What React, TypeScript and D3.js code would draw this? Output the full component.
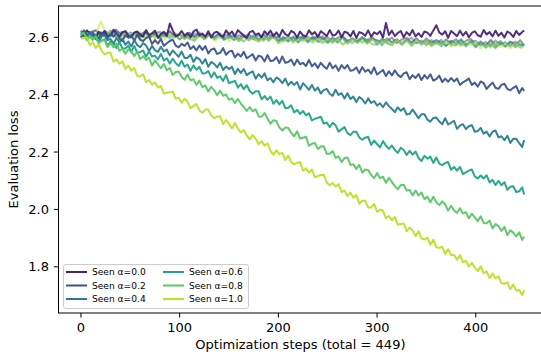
import React from 'react';
import * as d3 from 'd3';

// optimisation steps at which the seen curves were read (every 3 steps) and the unseen ones (every 5 steps)
const STEPS_SEEN = [...d3.range(0, 450, 3), 449];
const STEPS_UNSEEN = [...d3.range(0, 450, 5), 449];
const ALPHA_LABELS = ['0.0', '0.2', '0.4', '0.6', '0.8', '1.0'];
const X_TICKS = [0, 100, 200, 300, 400];
const Y_TICKS = [1.8, 2.0, 2.2, 2.4, 2.6];

const SEEN_00 = [
  2.615, 2.604, 2.624, 2.614, 2.607, 2.599, 2.619, 2.610, 2.622, 2.603,
  2.608, 2.626, 2.613, 2.601, 2.618, 2.621, 2.605, 2.600, 2.616, 2.620,
  2.609, 2.602, 2.625, 2.606, 2.614, 2.623, 2.598, 2.611, 2.619, 2.604,
  2.648, 2.624, 2.603, 2.608, 2.622, 2.605, 2.615, 2.600, 2.620, 2.627,
  2.606, 2.613, 2.602, 2.621, 2.599, 2.616, 2.619, 2.607, 2.601, 2.624,
  2.610, 2.620, 2.603, 2.625, 2.615, 2.605, 2.598, 2.618, 2.622, 2.608,
  2.614, 2.600, 2.621, 2.609, 2.623, 2.604, 2.617, 2.602, 2.626, 2.611,
  2.605, 2.622, 2.616, 2.599, 2.620, 2.607, 2.603, 2.624, 2.610, 2.618,
  2.601, 2.621, 2.613, 2.604, 2.625, 2.606, 2.609, 2.623, 2.600, 2.619,
  2.616, 2.603, 2.622, 2.598, 2.618, 2.614, 2.605, 2.624, 2.602, 2.617,
  2.611, 2.621, 2.599, 2.650, 2.608, 2.623, 2.604, 2.615, 2.622, 2.600,
  2.618, 2.607, 2.625, 2.603, 2.614, 2.601, 2.620, 2.616, 2.605, 2.624,
  2.642, 2.617, 2.609, 2.621, 2.598, 2.622, 2.613, 2.604, 2.623, 2.606,
  2.619, 2.600, 2.615, 2.621, 2.607, 2.602, 2.625, 2.610, 2.618, 2.603,
  2.623, 2.605, 2.616, 2.599, 2.620, 2.614, 2.601, 2.622, 2.608, 2.618,
  2.624,
];
const SEEN_02 = [
  2.599, 2.624, 2.610, 2.602, 2.616, 2.603, 2.596, 2.616, 2.611, 2.596,
  2.613, 2.602, 2.616, 2.595, 2.587, 2.607, 2.598, 2.608, 2.588, 2.609,
  2.591, 2.587, 2.597, 2.602, 2.577, 2.590, 2.578, 2.594, 2.570, 2.579,
  2.587, 2.592, 2.571, 2.565, 2.577, 2.570, 2.582, 2.559, 2.569, 2.554,
  2.571, 2.556, 2.569, 2.544, 2.557, 2.561, 2.542, 2.546, 2.562, 2.539,
  2.550, 2.553, 2.530, 2.543, 2.533, 2.549, 2.527, 2.534, 2.541, 2.519,
  2.536, 2.532, 2.516, 2.538, 2.517, 2.519, 2.531, 2.510, 2.533, 2.511,
  2.514, 2.522, 2.502, 2.522, 2.506, 2.511, 2.500, 2.521, 2.499, 2.509,
  2.493, 2.511, 2.499, 2.490, 2.511, 2.492, 2.502, 2.483, 2.503, 2.491,
  2.503, 2.483, 2.486, 2.495, 2.475, 2.496, 2.480, 2.487, 2.473, 2.495,
  2.470, 2.478, 2.486, 2.465, 2.481, 2.467, 2.485, 2.469, 2.461, 2.474,
  2.478, 2.454, 2.468, 2.458, 2.472, 2.451, 2.468, 2.456, 2.471, 2.449,
  2.454, 2.466, 2.444, 2.456, 2.445, 2.458, 2.446, 2.456, 2.434, 2.443,
  2.449, 2.456, 2.434, 2.442, 2.428, 2.446, 2.440, 2.420, 2.432, 2.442,
  2.424, 2.420, 2.434, 2.438, 2.420, 2.415, 2.424, 2.430, 2.405, 2.423,
  2.413,
];
const SEEN_04 = [
  2.608, 2.616, 2.597, 2.618, 2.606, 2.594, 2.585, 2.603, 2.606, 2.590,
  2.594, 2.578, 2.597, 2.583, 2.595, 2.574, 2.585, 2.568, 2.590, 2.573,
  2.565, 2.580, 2.571, 2.552, 2.570, 2.555, 2.549, 2.567, 2.551, 2.557,
  2.537, 2.554, 2.543, 2.532, 2.550, 2.528, 2.528, 2.539, 2.514, 2.530,
  2.524, 2.508, 2.524, 2.497, 2.514, 2.507, 2.495, 2.511, 2.486, 2.498,
  2.489, 2.497, 2.472, 2.490, 2.476, 2.489, 2.468, 2.476, 2.481, 2.456,
  2.472, 2.459, 2.474, 2.450, 2.458, 2.443, 2.460, 2.453, 2.440, 2.456,
  2.432, 2.445, 2.434, 2.444, 2.418, 2.440, 2.429, 2.417, 2.434, 2.414,
  2.425, 2.404, 2.416, 2.420, 2.403, 2.396, 2.417, 2.399, 2.405, 2.387,
  2.405, 2.385, 2.393, 2.374, 2.392, 2.384, 2.369, 2.387, 2.371, 2.378,
  2.362, 2.370, 2.356, 2.373, 2.360, 2.350, 2.339, 2.356, 2.344, 2.353,
  2.331, 2.333, 2.348, 2.333, 2.318, 2.332, 2.332, 2.313, 2.306, 2.319,
  2.320, 2.307, 2.297, 2.318, 2.296, 2.302, 2.309, 2.281, 2.292, 2.297,
  2.280, 2.290, 2.294, 2.271, 2.273, 2.284, 2.264, 2.271, 2.254, 2.271,
  2.275, 2.251, 2.255, 2.241, 2.257, 2.232, 2.246, 2.246, 2.231, 2.218,
  2.242,
];
const SEEN_06 = [
  2.615, 2.616, 2.592, 2.603, 2.592, 2.606, 2.583, 2.588, 2.594, 2.570,
  2.586, 2.580, 2.563, 2.583, 2.561, 2.561, 2.571, 2.549, 2.570, 2.547,
  2.548, 2.554, 2.532, 2.551, 2.533, 2.536, 2.523, 2.542, 2.519, 2.527,
  2.509, 2.525, 2.510, 2.500, 2.518, 2.497, 2.505, 2.483, 2.502, 2.487,
  2.497, 2.474, 2.475, 2.482, 2.460, 2.478, 2.459, 2.464, 2.448, 2.468,
  2.440, 2.444, 2.448, 2.425, 2.437, 2.419, 2.433, 2.413, 2.403, 2.412,
  2.412, 2.384, 2.395, 2.382, 2.393, 2.368, 2.381, 2.366, 2.378, 2.353,
  2.354, 2.363, 2.338, 2.347, 2.333, 2.343, 2.328, 2.335, 2.310, 2.316,
  2.319, 2.323, 2.299, 2.303, 2.287, 2.302, 2.293, 2.271, 2.279, 2.287,
  2.266, 2.259, 2.271, 2.271, 2.251, 2.243, 2.250, 2.253, 2.225, 2.240,
  2.228, 2.216, 2.238, 2.222, 2.211, 2.223, 2.207, 2.197, 2.215, 2.207,
  2.190, 2.204, 2.191, 2.202, 2.179, 2.169, 2.187, 2.177, 2.184, 2.162,
  2.181, 2.160, 2.154, 2.162, 2.165, 2.138, 2.148, 2.135, 2.148, 2.123,
  2.129, 2.135, 2.139, 2.115, 2.108, 2.118, 2.108, 2.119, 2.094, 2.103,
  2.085, 2.100, 2.084, 2.095, 2.068, 2.079, 2.081, 2.061, 2.063, 2.077,
  2.052,
];
const SEEN_08 = [
  2.609, 2.615, 2.590, 2.606, 2.592, 2.603, 2.580, 2.588, 2.591, 2.566,
  2.580, 2.565, 2.579, 2.553, 2.560, 2.543, 2.558, 2.550, 2.535, 2.550,
  2.524, 2.534, 2.521, 2.529, 2.501, 2.520, 2.506, 2.492, 2.507, 2.485,
  2.493, 2.469, 2.479, 2.481, 2.462, 2.452, 2.470, 2.450, 2.454, 2.434,
  2.449, 2.426, 2.432, 2.411, 2.427, 2.416, 2.398, 2.414, 2.396, 2.401,
  2.382, 2.387, 2.371, 2.385, 2.369, 2.357, 2.343, 2.357, 2.342, 2.349,
  2.324, 2.323, 2.336, 2.317, 2.299, 2.311, 2.308, 2.286, 2.275, 2.286,
  2.284, 2.267, 2.255, 2.272, 2.247, 2.250, 2.253, 2.222, 2.229, 2.232,
  2.211, 2.219, 2.220, 2.194, 2.194, 2.203, 2.180, 2.185, 2.165, 2.179,
  2.181, 2.155, 2.157, 2.141, 2.155, 2.128, 2.139, 2.137, 2.120, 2.109,
  2.127, 2.109, 2.114, 2.093, 2.110, 2.096, 2.081, 2.070, 2.085, 2.085,
  2.066, 2.068, 2.049, 2.066, 2.049, 2.059, 2.036, 2.044, 2.025, 2.044,
  2.025, 2.015, 2.028, 2.017, 1.996, 2.013, 1.996, 1.988, 2.004, 1.986,
  1.990, 1.969, 1.985, 1.972, 1.959, 1.976, 1.953, 1.952, 1.961, 1.934,
  1.949, 1.942, 1.925, 1.939, 1.911, 1.927, 1.919, 1.906, 1.920, 1.894,
  1.905,
];
const SEEN_10 = [
  2.595, 2.597, 2.599, 2.573, 2.583, 2.563, 2.575, 2.553, 2.540, 2.547,
  2.545, 2.515, 2.523, 2.508, 2.516, 2.490, 2.501, 2.483, 2.493, 2.465,
  2.464, 2.471, 2.443, 2.451, 2.435, 2.443, 2.425, 2.430, 2.404, 2.407,
  2.408, 2.411, 2.386, 2.389, 2.372, 2.386, 2.376, 2.353, 2.360, 2.367,
  2.345, 2.337, 2.348, 2.348, 2.327, 2.318, 2.323, 2.325, 2.297, 2.311,
  2.298, 2.283, 2.301, 2.282, 2.268, 2.277, 2.257, 2.244, 2.259, 2.247,
  2.227, 2.238, 2.222, 2.230, 2.204, 2.191, 2.206, 2.193, 2.197, 2.172,
  2.188, 2.165, 2.157, 2.163, 2.164, 2.135, 2.143, 2.128, 2.139, 2.112,
  2.116, 2.120, 2.121, 2.094, 2.084, 2.092, 2.080, 2.088, 2.060, 2.066,
  2.046, 2.059, 2.041, 2.050, 2.020, 2.030, 2.030, 2.007, 2.007, 2.019,
  1.992, 1.999, 1.996, 1.969, 1.977, 1.963, 1.973, 1.947, 1.949, 1.951,
  1.924, 1.937, 1.927, 1.907, 1.924, 1.899, 1.895, 1.902, 1.877, 1.894,
  1.868, 1.866, 1.870, 1.845, 1.861, 1.841, 1.841, 1.825, 1.841, 1.816,
  1.821, 1.801, 1.814, 1.798, 1.785, 1.802, 1.778, 1.784, 1.760, 1.777,
  1.760, 1.767, 1.743, 1.741, 1.746, 1.722, 1.738, 1.717, 1.719, 1.702,
  1.719,
];

const UNSEEN_00 = [
  2.623, 2.604, 2.618, 2.625, 2.608, 2.620, 2.606, 2.627, 2.611, 2.621,
  2.601, 2.619, 2.608, 2.620, 2.599, 2.615, 2.618, 2.603, 2.621, 2.606,
  2.612, 2.596, 2.615, 2.603, 2.617, 2.599, 2.610, 2.597, 2.614, 2.602,
  2.612, 2.591, 2.607, 2.600, 2.611, 2.594, 2.608, 2.592, 2.613, 2.597,
  2.601, 2.588, 2.604, 2.586, 2.600, 2.597, 2.601, 2.591, 2.607, 2.594,
  2.600, 2.584, 2.598, 2.605, 2.586, 2.596, 2.583, 2.601, 2.589, 2.602,
  2.577, 2.593, 2.586, 2.599, 2.580, 2.592, 2.598, 2.582, 2.595, 2.578,
  2.596, 2.581, 2.590, 2.575, 2.592, 2.580, 2.593, 2.573, 2.588, 2.594,
  2.572, 2.585, 2.570, 2.591, 2.576, 2.586, 2.569, 2.584, 2.573, 2.590,
  2.571,
];
const UNSEEN_02 = [
  2.622, 2.602, 2.617, 2.623, 2.606, 2.619, 2.604, 2.625, 2.610, 2.620,
  2.599, 2.614, 2.603, 2.620, 2.605, 2.617, 2.598, 2.612, 2.619, 2.602,
  2.609, 2.595, 2.616, 2.600, 2.610, 2.594, 2.612, 2.601, 2.613, 2.592,
  2.604, 2.607, 2.592, 2.610, 2.595, 2.606, 2.590, 2.609, 2.597, 2.611,
  2.588, 2.599, 2.586, 2.603, 2.591, 2.605, 2.584, 2.600, 2.593, 2.604,
  2.583, 2.597, 2.581, 2.602, 2.586, 2.595, 2.582, 2.598, 2.580, 2.594,
  2.590, 2.580, 2.596, 2.583, 2.593, 2.577, 2.591, 2.598, 2.579, 2.589,
  2.572, 2.590, 2.578, 2.591, 2.571, 2.587, 2.580, 2.593, 2.574, 2.586,
  2.587, 2.571, 2.584, 2.567, 2.589, 2.574, 2.583, 2.568, 2.585, 2.573,
  2.573,
];
const UNSEEN_04 = [
  2.620, 2.607, 2.619, 2.602, 2.617, 2.608, 2.623, 2.601, 2.618, 2.605,
  2.617, 2.611, 2.599, 2.618, 2.605, 2.612, 2.596, 2.616, 2.603, 2.615,
  2.592, 2.605, 2.595, 2.614, 2.607, 2.593, 2.609, 2.599, 2.612, 2.596,
  2.598, 2.601, 2.587, 2.605, 2.589, 2.602, 2.593, 2.609, 2.588, 2.604,
  2.585, 2.602, 2.591, 2.598, 2.582, 2.603, 2.589, 2.601, 2.584, 2.597,
  2.582, 2.600, 2.586, 2.598, 2.579, 2.595, 2.584, 2.599, 2.581, 2.596,
  2.588, 2.572, 2.593, 2.581, 2.592, 2.574, 2.590, 2.580, 2.596, 2.575,
  2.585, 2.573, 2.590, 2.583, 2.569, 2.588, 2.576, 2.591, 2.574, 2.585,
  2.565, 2.582, 2.572, 2.587, 2.566, 2.581, 2.568, 2.585, 2.579, 2.564,
  2.575,
];
const UNSEEN_06 = [
  2.599, 2.620, 2.604, 2.611, 2.600, 2.617, 2.603, 2.619, 2.598, 2.614,
  2.601, 2.614, 2.598, 2.616, 2.602, 2.605, 2.601, 2.611, 2.595, 2.608,
  2.593, 2.609, 2.595, 2.588, 2.607, 2.597, 2.610, 2.592, 2.604, 2.591,
  2.607, 2.591, 2.598, 2.585, 2.604, 2.592, 2.586, 2.602, 2.589, 2.606,
  2.579, 2.594, 2.585, 2.600, 2.583, 2.595, 2.582, 2.602, 2.587, 2.581,
  2.594, 2.581, 2.596, 2.575, 2.590, 2.580, 2.597, 2.582, 2.593, 2.576,
  2.574, 2.593, 2.579, 2.572, 2.589, 2.577, 2.591, 2.570, 2.586, 2.576,
  2.588, 2.570, 2.581, 2.569, 2.590, 2.574, 2.571, 2.586, 2.568, 2.583,
  2.567, 2.583, 2.564, 2.576, 2.562, 2.580, 2.569, 2.582, 2.565, 2.577,
  2.573,
];
const UNSEEN_08 = [
  2.608, 2.605, 2.620, 2.602, 2.617, 2.606, 2.622, 2.603, 2.615, 2.601,
  2.615, 2.604, 2.617, 2.600, 2.612, 2.598, 2.619, 2.603, 2.610, 2.599,
  2.611, 2.597, 2.613, 2.592, 2.608, 2.599, 2.612, 2.596, 2.614, 2.600,
  2.595, 2.605, 2.589, 2.602, 2.592, 2.608, 2.594, 2.587, 2.606, 2.596,
  2.604, 2.586, 2.598, 2.585, 2.605, 2.589, 2.596, 2.583, 2.602, 2.590,
  2.580, 2.596, 2.583, 2.600, 2.578, 2.593, 2.584, 2.599, 2.582, 2.594,
  2.576, 2.596, 2.581, 2.575, 2.592, 2.579, 2.594, 2.573, 2.588, 2.578,
  2.591, 2.576, 2.587, 2.570, 2.585, 2.573, 2.592, 2.578, 2.571, 2.588,
  2.571, 2.585, 2.564, 2.580, 2.570, 2.586, 2.568, 2.579, 2.567, 2.588,
  2.572,
];
const UNSEEN_10 = [
  2.604, 2.620, 2.599, 2.611, 2.655, 2.618, 2.602, 2.612, 2.596, 2.617,
  2.599, 2.611, 2.594, 2.601, 2.615, 2.596, 2.608, 2.593, 2.610, 2.599,
  2.609, 2.592, 2.602, 2.587, 2.608, 2.593, 2.606, 2.589, 2.595, 2.610,
  2.586, 2.599, 2.587, 2.604, 2.589, 2.598, 2.583, 2.605, 2.588, 2.601,
  2.580, 2.586, 2.598, 2.579, 2.592, 2.585, 2.601, 2.581, 2.594, 2.582,
  2.596, 2.583, 2.593, 2.574, 2.581, 2.595, 2.579, 2.589, 2.576, 2.592,
  2.581, 2.578, 2.592, 2.574, 2.590, 2.577, 2.586, 2.570, 2.591, 2.575,
  2.585, 2.568, 2.579, 2.572, 2.588, 2.567, 2.581, 2.569, 2.586, 2.573,
  2.579, 2.561, 2.575, 2.563, 2.582, 2.566, 2.577, 2.562, 2.580, 2.565,
  2.564,
];

const SEEN = [SEEN_00, SEEN_02, SEEN_04, SEEN_06, SEEN_08, SEEN_10];
const UNSEEN = [UNSEEN_00, UNSEEN_02, UNSEEN_04, UNSEEN_06, UNSEEN_08, UNSEEN_10];

const FONT = '"DejaVu Sans", sans-serif';

export default function App() {
  const W = 541;
  const H = 358;
  const left = 58.5;
  const right = 546.3;
  const top = 6;
  const bottom = 313;

  const x = d3.scaleLinear().domain([-22.45, 471.45]).range([58.8, right]);
  const y = d3.scaleLinear().domain([1.639, 2.709]).range([bottom, top]);
  const color = (i: number) => d3.interpolateViridis(0.1 + 0.16 * i);
  const lineSeen = d3
    .line<number>()
    .x((_, i) => x(STEPS_SEEN[i]))
    .y((d) => y(d));
  const lineUnseen = d3
    .line<number>()
    .x((_, i) => x(STEPS_UNSEEN[i]))
    .y((d) => y(d));

  const legendRows = [272, 285.5, 299];
  const legendCols = [66, 163];

  return (
    <div style={{ position: 'absolute', left: 0, top: 0 }}>
      <svg width={W} height={H} style={{ display: 'block', background: '#fff' }}>
        <defs>
          <clipPath id="plotclip">
            <rect x={left} y={top} width={right - left} height={bottom - top} />
          </clipPath>
        </defs>
        <rect x={0} y={0} width={W} height={H} fill="#fff" />
        <g clipPath="url(#plotclip)">
          {UNSEEN.map((s, i) => (
            <path key={'u' + i} d={lineUnseen(s) || ''} fill="none" stroke={color(i)} strokeWidth={2} strokeOpacity={0.5} strokeLinejoin="round" />
          ))}
          {SEEN.map((s, i) => (
            <path key={'s' + i} d={lineSeen(s) || ''} fill="none" stroke={color(i)} strokeWidth={2} strokeOpacity={0.95} strokeLinejoin="round" />
          ))}
        </g>
        <rect x={left} y={top} width={right - left} height={bottom - top} fill="none" stroke="#000" strokeWidth={1} />
        {X_TICKS.map((t) => (
          <g key={t}>
            <line x1={x(t)} x2={x(t)} y1={bottom} y2={bottom + 4.6} stroke="#000" strokeWidth={1} />
            <text x={x(t)} y={332} textAnchor="middle" fontFamily={FONT} fontSize={13} fill="#000">
              {t}
            </text>
          </g>
        ))}
        {Y_TICKS.map((t) => (
          <g key={t}>
            <line x1={left - 4.6} x2={left} y1={y(t)} y2={y(t)} stroke="#000" strokeWidth={1} />
            <text x={49} y={y(t)} dy="0.36em" textAnchor="end" fontFamily={FONT} fontSize={13} fill="#000">
              {t.toFixed(1)}
            </text>
          </g>
        ))}
        <text x={(left + right) / 2 - 2} y={349} textAnchor="middle" fontFamily={FONT} fontSize={13} fill="#000">
          Optimization steps (total = 449)
        </text>
        <text
          transform={`translate(18,${(top + bottom) / 2}) rotate(-90)`}
          textAnchor="middle"
          fontFamily={FONT}
          fontSize={13}
          fill="#000"
        >
          Evaluation loss
        </text>
        <rect x={63.5} y={264.5} width={185} height={44} rx={2.5} fill="#fff" fillOpacity={0.8} stroke="#cccccc" strokeWidth={1} />
        {ALPHA_LABELS.map((a, i) => {
          const col = Math.floor(i / 3);
          const row = i % 3;
          const cx = legendCols[col];
          const cy = legendRows[row];
          return (
            <g key={a}>
              <line x1={cx} x2={cx + 21} y1={cy} y2={cy} stroke={color(i)} strokeWidth={2} />
              <text x={cx + 26} y={cy} dy="0.36em" fontFamily={FONT} fontSize={9.1} fill="#000">
                {`Seen α=${a}`}
              </text>
            </g>
          );
        })}
      </svg>
    </div>
  );
}
